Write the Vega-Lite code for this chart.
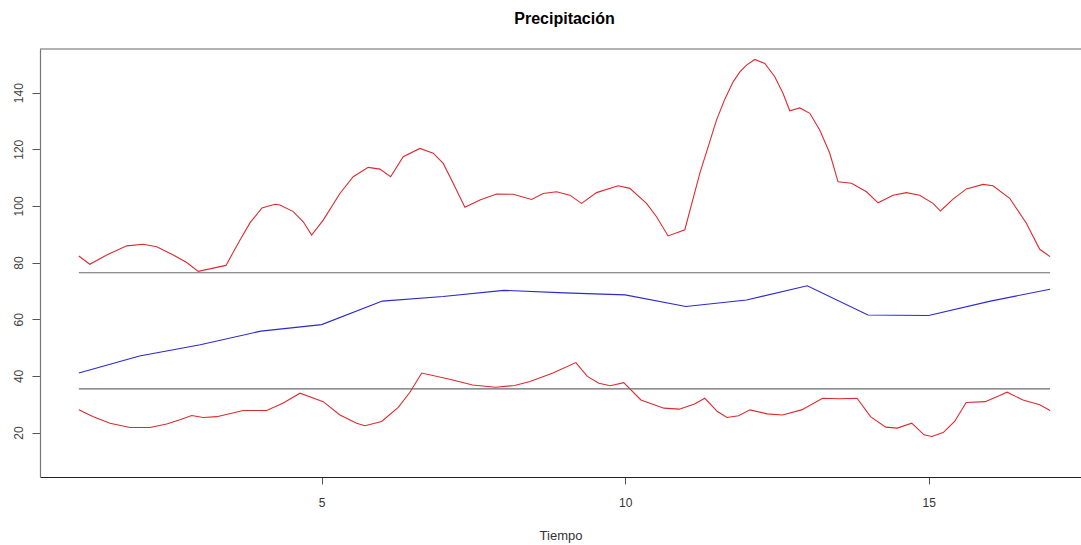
{
  "$schema": "https://vega.github.io/schema/vega-lite/v6.json",
  "width": 1041,
  "height": 428,
  "autosize": {"type": "none"},
  "padding": {"left": 40, "top": 49, "right": 0, "bottom": 68},
  "background": "white",
  "config": {"view": {"stroke": null}, "font": "Liberation Sans"},
  "title": {"text": "Precipitación", "fontSize": 16, "font": "Liberation Sans", "fontWeight": "bold", "color": "black", "anchor": "middle", "dx": 4, "offset": 8, "baseline": "alphabetic"},
  "layer": [
    {
      "data": {"values": [
        {"s": "upper", "t": 1.0, "v": 82.3}, {"s": "upper", "t": 1.18, "v": 79.4}, {"s": "upper", "t": 1.459, "v": 82.7}, {"s": "upper", "t": 1.789, "v": 85.9}, {"s": "upper", "t": 2.062, "v": 86.45}, {"s": "upper", "t": 2.283, "v": 85.6}, {"s": "upper", "t": 2.556, "v": 82.7}, {"s": "upper", "t": 2.777, "v": 80.0}, {"s": "upper", "t": 2.968, "v": 76.9}, {"s": "upper", "t": 3.424, "v": 79.0}, {"s": "upper", "t": 3.655, "v": 88.0}, {"s": "upper", "t": 3.819, "v": 94.0}, {"s": "upper", "t": 4.017, "v": 99.3}, {"s": "upper", "t": 4.231, "v": 100.6}, {"s": "upper", "t": 4.313, "v": 100.3}, {"s": "upper", "t": 4.532, "v": 98.0}, {"s": "upper", "t": 4.697, "v": 94.4}, {"s": "upper", "t": 4.835, "v": 89.7}, {"s": "upper", "t": 5.026, "v": 95.0}, {"s": "upper", "t": 5.301, "v": 104.4}, {"s": "upper", "t": 5.52, "v": 110.3}, {"s": "upper", "t": 5.767, "v": 113.6}, {"s": "upper", "t": 5.96, "v": 113.0}, {"s": "upper", "t": 6.136, "v": 110.3}, {"s": "upper", "t": 6.344, "v": 117.4}, {"s": "upper", "t": 6.619, "v": 120.3}, {"s": "upper", "t": 6.838, "v": 118.6}, {"s": "upper", "t": 7.003, "v": 115.0}, {"s": "upper", "t": 7.167, "v": 108.0}, {"s": "upper", "t": 7.36, "v": 99.5}, {"s": "upper", "t": 7.607, "v": 102.1}, {"s": "upper", "t": 7.882, "v": 104.2}, {"s": "upper", "t": 8.155, "v": 104.1}, {"s": "upper", "t": 8.458, "v": 102.3}, {"s": "upper", "t": 8.65, "v": 104.4}, {"s": "upper", "t": 8.87, "v": 105.0}, {"s": "upper", "t": 9.089, "v": 103.8}, {"s": "upper", "t": 9.282, "v": 100.9}, {"s": "upper", "t": 9.529, "v": 104.7}, {"s": "upper", "t": 9.885, "v": 107.1}, {"s": "upper", "t": 10.077, "v": 106.2}, {"s": "upper", "t": 10.352, "v": 100.9}, {"s": "upper", "t": 10.517, "v": 96.2}, {"s": "upper", "t": 10.708, "v": 89.4}, {"s": "upper", "t": 10.983, "v": 91.6}, {"s": "upper", "t": 11.23, "v": 111.5}, {"s": "upper", "t": 11.505, "v": 130.3}, {"s": "upper", "t": 11.64, "v": 137.6}, {"s": "upper", "t": 11.779, "v": 143.8}, {"s": "upper", "t": 11.89, "v": 147.3}, {"s": "upper", "t": 11.999, "v": 149.7}, {"s": "upper", "t": 12.136, "v": 151.7}, {"s": "upper", "t": 12.301, "v": 150.3}, {"s": "upper", "t": 12.465, "v": 145.6}, {"s": "upper", "t": 12.602, "v": 139.7}, {"s": "upper", "t": 12.712, "v": 133.6}, {"s": "upper", "t": 12.877, "v": 134.6}, {"s": "upper", "t": 13.042, "v": 132.7}, {"s": "upper", "t": 13.206, "v": 126.8}, {"s": "upper", "t": 13.371, "v": 118.6}, {"s": "upper", "t": 13.508, "v": 108.5}, {"s": "upper", "t": 13.729, "v": 108.0}, {"s": "upper", "t": 13.976, "v": 105.0}, {"s": "upper", "t": 14.167, "v": 101.1}, {"s": "upper", "t": 14.414, "v": 103.8}, {"s": "upper", "t": 14.634, "v": 104.7}, {"s": "upper", "t": 14.853, "v": 103.8}, {"s": "upper", "t": 15.072, "v": 100.9}, {"s": "upper", "t": 15.194, "v": 98.2}, {"s": "upper", "t": 15.402, "v": 102.4}, {"s": "upper", "t": 15.622, "v": 106.0}, {"s": "upper", "t": 15.896, "v": 107.6}, {"s": "upper", "t": 16.06, "v": 107.1}, {"s": "upper", "t": 16.335, "v": 102.7}, {"s": "upper", "t": 16.61, "v": 93.9}, {"s": "upper", "t": 16.83, "v": 84.7}, {"s": "upper", "t": 17.0, "v": 82.1},
        {"s": "lower", "t": 1.0, "v": 28.0}, {"s": "lower", "t": 1.238, "v": 25.6}, {"s": "lower", "t": 1.513, "v": 23.3}, {"s": "lower", "t": 1.843, "v": 21.8}, {"s": "lower", "t": 2.172, "v": 21.8}, {"s": "lower", "t": 2.447, "v": 23.0}, {"s": "lower", "t": 2.666, "v": 24.5}, {"s": "lower", "t": 2.859, "v": 26.0}, {"s": "lower", "t": 3.05, "v": 25.3}, {"s": "lower", "t": 3.271, "v": 25.6}, {"s": "lower", "t": 3.518, "v": 26.8}, {"s": "lower", "t": 3.709, "v": 27.8}, {"s": "lower", "t": 4.094, "v": 27.8}, {"s": "lower", "t": 4.368, "v": 30.4}, {"s": "lower", "t": 4.643, "v": 33.9}, {"s": "lower", "t": 5.026, "v": 30.9}, {"s": "lower", "t": 5.301, "v": 26.2}, {"s": "lower", "t": 5.576, "v": 23.3}, {"s": "lower", "t": 5.713, "v": 22.4}, {"s": "lower", "t": 5.988, "v": 23.9}, {"s": "lower", "t": 6.262, "v": 28.9}, {"s": "lower", "t": 6.454, "v": 34.2}, {"s": "lower", "t": 6.649, "v": 41.0}, {"s": "lower", "t": 7.108, "v": 38.8}, {"s": "lower", "t": 7.487, "v": 36.8}, {"s": "lower", "t": 7.866, "v": 36.0}, {"s": "lower", "t": 8.18, "v": 36.6}, {"s": "lower", "t": 8.432, "v": 38.0}, {"s": "lower", "t": 8.811, "v": 41.0}, {"s": "lower", "t": 9.188, "v": 44.7}, {"s": "lower", "t": 9.377, "v": 39.8}, {"s": "lower", "t": 9.567, "v": 37.4}, {"s": "lower", "t": 9.756, "v": 36.5}, {"s": "lower", "t": 9.977, "v": 37.6}, {"s": "lower", "t": 10.26, "v": 31.5}, {"s": "lower", "t": 10.639, "v": 28.6}, {"s": "lower", "t": 10.891, "v": 28.25}, {"s": "lower", "t": 11.143, "v": 30.1}, {"s": "lower", "t": 11.312, "v": 32.1}, {"s": "lower", "t": 11.52, "v": 27.4}, {"s": "lower", "t": 11.678, "v": 25.3}, {"s": "lower", "t": 11.868, "v": 25.9}, {"s": "lower", "t": 12.057, "v": 28.0}, {"s": "lower", "t": 12.34, "v": 26.6}, {"s": "lower", "t": 12.592, "v": 26.2}, {"s": "lower", "t": 12.907, "v": 28.0}, {"s": "lower", "t": 13.254, "v": 32.1}, {"s": "lower", "t": 13.538, "v": 31.9}, {"s": "lower", "t": 13.821, "v": 32.1}, {"s": "lower", "t": 14.042, "v": 25.6}, {"s": "lower", "t": 14.293, "v": 21.9}, {"s": "lower", "t": 14.483, "v": 21.55}, {"s": "lower", "t": 14.722, "v": 23.3}, {"s": "lower", "t": 14.924, "v": 19.2}, {"s": "lower", "t": 15.051, "v": 18.6}, {"s": "lower", "t": 15.239, "v": 20.0}, {"s": "lower", "t": 15.428, "v": 23.9}, {"s": "lower", "t": 15.618, "v": 30.6}, {"s": "lower", "t": 15.932, "v": 30.9}, {"s": "lower", "t": 16.171, "v": 33.05}, {"s": "lower", "t": 16.291, "v": 34.25}, {"s": "lower", "t": 16.555, "v": 31.5}, {"s": "lower", "t": 16.83, "v": 29.8}, {"s": "lower", "t": 17.0, "v": 27.8},
        {"s": "mean", "t": 1, "v": 41.0}, {"s": "mean", "t": 2, "v": 47.0}, {"s": "mean", "t": 3, "v": 51.0}, {"s": "mean", "t": 4, "v": 55.8}, {"s": "mean", "t": 5, "v": 58.1}, {"s": "mean", "t": 6, "v": 66.4}, {"s": "mean", "t": 7, "v": 68.0}, {"s": "mean", "t": 8, "v": 70.2}, {"s": "mean", "t": 9, "v": 69.3}, {"s": "mean", "t": 10, "v": 68.6}, {"s": "mean", "t": 11, "v": 64.5}, {"s": "mean", "t": 12, "v": 66.8}, {"s": "mean", "t": 13, "v": 71.8}, {"s": "mean", "t": 14, "v": 61.5}, {"s": "mean", "t": 15, "v": 61.3}, {"s": "mean", "t": 16, "v": 66.3}, {"s": "mean", "t": 17, "v": 70.6},
        {"s": "hi", "t": 1, "v": 76.4}, {"s": "hi", "t": 17, "v": 76.4},
        {"s": "lo", "t": 1, "v": 35.4}, {"s": "lo", "t": 17, "v": 35.4}
      ]},
      "mark": {"type": "line", "strokeWidth": 1.1, "clip": true},
      "encoding": {
        "x": {"field": "t", "type": "quantitative", "scale": {"domain": [0.36, 17.51], "nice": false, "zero": false},
          "axis": {"values": [5, 10, 15], "title": "Tiempo", "grid": false, "domainColor": "#222", "domainWidth": 1.2, "tickColor": "#555", "tickSize": 7, "labelPadding": 13, "labelFontSize": 12, "labelColor": "#333", "labelFont": "Liberation Sans", "titleFont": "Liberation Sans", "titleFontSize": 13, "titleFontWeight": "normal", "titleColor": "#333", "titlePadding": 21}},
        "y": {"field": "v", "type": "quantitative", "scale": {"domain": [4.3, 155.4], "nice": false, "zero": false},
          "axis": {"values": [20, 40, 60, 80, 100, 120, 140], "title": null, "grid": false, "domainColor": "#777", "domainWidth": 1.2, "tickColor": "#555", "tickSize": 8, "labelAngle": -90, "labelAlign": "center", "labelBaseline": "bottom", "labelPadding": 7, "labelFontSize": 12, "labelColor": "#444", "labelFont": "Liberation Sans"}},
        "color": {"field": "s", "type": "nominal", "scale": {"domain": ["upper", "lower", "mean", "hi", "lo"], "range": ["#dd2a30", "#dd2a30", "#2a2ad0", "#6a6a6a", "#6a6a6a"]}, "legend": null}
      }
    },
    {
      "data": {"values": [{"top": 155.4}]},
      "mark": {"type": "rule", "color": "#666", "strokeWidth": 1.2},
      "encoding": {"y": {"field": "top", "type": "quantitative"}}
    }
  ]
}
